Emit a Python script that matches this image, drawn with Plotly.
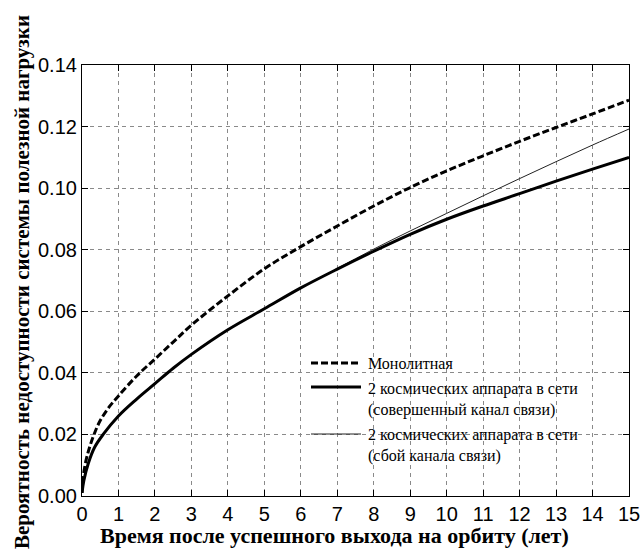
import plotly.graph_objects as go

# Years after successful orbit insertion
t_mono = [0, 0.02, 0.1, 0.2, 0.33, 0.5, 0.75, 1, 1.5, 2, 2.5, 3, 4, 5, 6, 7, 8,
          9, 10, 11, 12, 13, 14, 15]
p_mono = [0.001, 0.005, 0.011, 0.0155, 0.020, 0.0245, 0.029, 0.0325, 0.039,
          0.0445, 0.050, 0.0555, 0.065, 0.0738, 0.081, 0.0877, 0.0942, 0.1002,
          0.1056, 0.1105, 0.1152, 0.1197, 0.1241, 0.1286]

t_net = [0, 0.05, 0.17, 0.35, 0.58, 1, 1.5, 2, 2.5, 3, 4, 5, 6, 7, 8, 9, 10,
         11, 12, 13, 14, 15]
p_net_ok = [0.001, 0.005, 0.0105, 0.0159, 0.020, 0.026, 0.0315, 0.0365, 0.0415,
            0.046, 0.054, 0.0608, 0.0676, 0.0737, 0.0795, 0.085, 0.0899, 0.0942,
            0.0982, 0.1023, 0.1062, 0.110]
p_net_fail = [0.001, 0.005, 0.0105, 0.0159, 0.020, 0.026, 0.0315, 0.0365, 0.0415,
              0.046, 0.054, 0.0608, 0.0676, 0.0739, 0.0802, 0.0861, 0.0918, 0.0975,
              0.1031, 0.1086, 0.1140, 0.1192]

x_ticks = list(range(0, 16))
y_ticks = [0.00, 0.02, 0.04, 0.06, 0.08, 0.10, 0.12, 0.14]
y_tick_text = ["0.00", "0.02", "0.04", "0.06", "0.08", "0.10", "0.12", "0.14"]

names = [
    "Монолитная",
    "2 космических аппарата в сети<br>(совершенный канал связи)",
    "2 космических аппарата в сети<br>(сбой канала связи)",
]
x_title = "Время после успешного выхода на орбиту (лет)"
y_title = "Вероятность недоступности системы полезной нагрузки"

W, H = 642, 557
ML, MR, MT, MB = 82, 13, 65, 61
PW, PH = W - ML - MR, H - MT - MB
SERIF = "Liberation Serif, Times New Roman, serif"


def px(x):
    return (x - ML) / PW


def py(y):
    return (H - MB - y) / PH


fig = go.Figure()
fig.add_trace(go.Scatter(x=t_mono, y=p_mono, mode="lines", name=names[0],
                         line=dict(color="black", width=3, dash="7px,3px", shape="spline"),
                         showlegend=False))
fig.add_trace(go.Scatter(x=t_net, y=p_net_fail, mode="lines", name=names[2],
                         line=dict(color="#222222", width=1, shape="spline"),
                         showlegend=False))
fig.add_trace(go.Scatter(x=t_net, y=p_net_ok, mode="lines", name=names[1],
                         line=dict(color="black", width=3, shape="spline"),
                         showlegend=False))

# Legend: sample lines and labels
shapes = []
annotations = []
legend_rows = [
    (363, 363, names[0], dict(color="black", width=3, dash="7px,3px")),
    (387, 399, names[1], dict(color="black", width=3)),
    (434, 445, names[2], dict(color="#222222", width=1)),
]
for ly, ty, label, ln in legend_rows:
    shapes.append(dict(type="line", xref="paper", yref="paper",
                       x0=px(311), x1=px(361), y0=py(ly), y1=py(ly), line=ln))
    annotations.append(dict(xref="paper", yref="paper", x=px(366), y=py(ty),
                            xanchor="left", yanchor="middle", showarrow=False,
                            align="left", text=label,
                            font=dict(family=SERIF, size=16, color="black")))

# Axis titles
annotations.append(dict(xref="paper", yref="paper", x=px(334), y=py(535),
                        xanchor="center", yanchor="middle", showarrow=False,
                        text="<b>" + x_title + "</b>",
                        font=dict(family=SERIF, size=22, color="black")))
annotations.append(dict(xref="paper", yref="paper", x=px(22), y=py(282),
                        xanchor="center", yanchor="middle", showarrow=False,
                        textangle=-90, text="<b>" + y_title + "</b>",
                        font=dict(family=SERIF, size=21, color="black")))

axis_common = dict(
    showline=True, linecolor="black", linewidth=1.2, mirror="ticks",
    ticks="inside", ticklen=6, tickcolor="black", tickwidth=1,
    showgrid=True, gridcolor="#8a8a8a", gridwidth=1, griddash="4px,4px",
    zeroline=False,
    tickfont=dict(family="Liberation Sans", size=20, color="black"),
)

fig.update_layout(
    width=W, height=H,
    margin=dict(l=ML, r=MR, t=MT, b=MB, autoexpand=False),
    paper_bgcolor="white", plot_bgcolor="white",
    xaxis=dict(range=[0, 15], tickvals=x_ticks, **axis_common),
    yaxis=dict(range=[0, 0.14], tickvals=y_ticks, ticktext=y_tick_text, **axis_common),
    shapes=shapes,
    annotations=annotations,
    showlegend=False,
)

fig.write_html("out.html")
